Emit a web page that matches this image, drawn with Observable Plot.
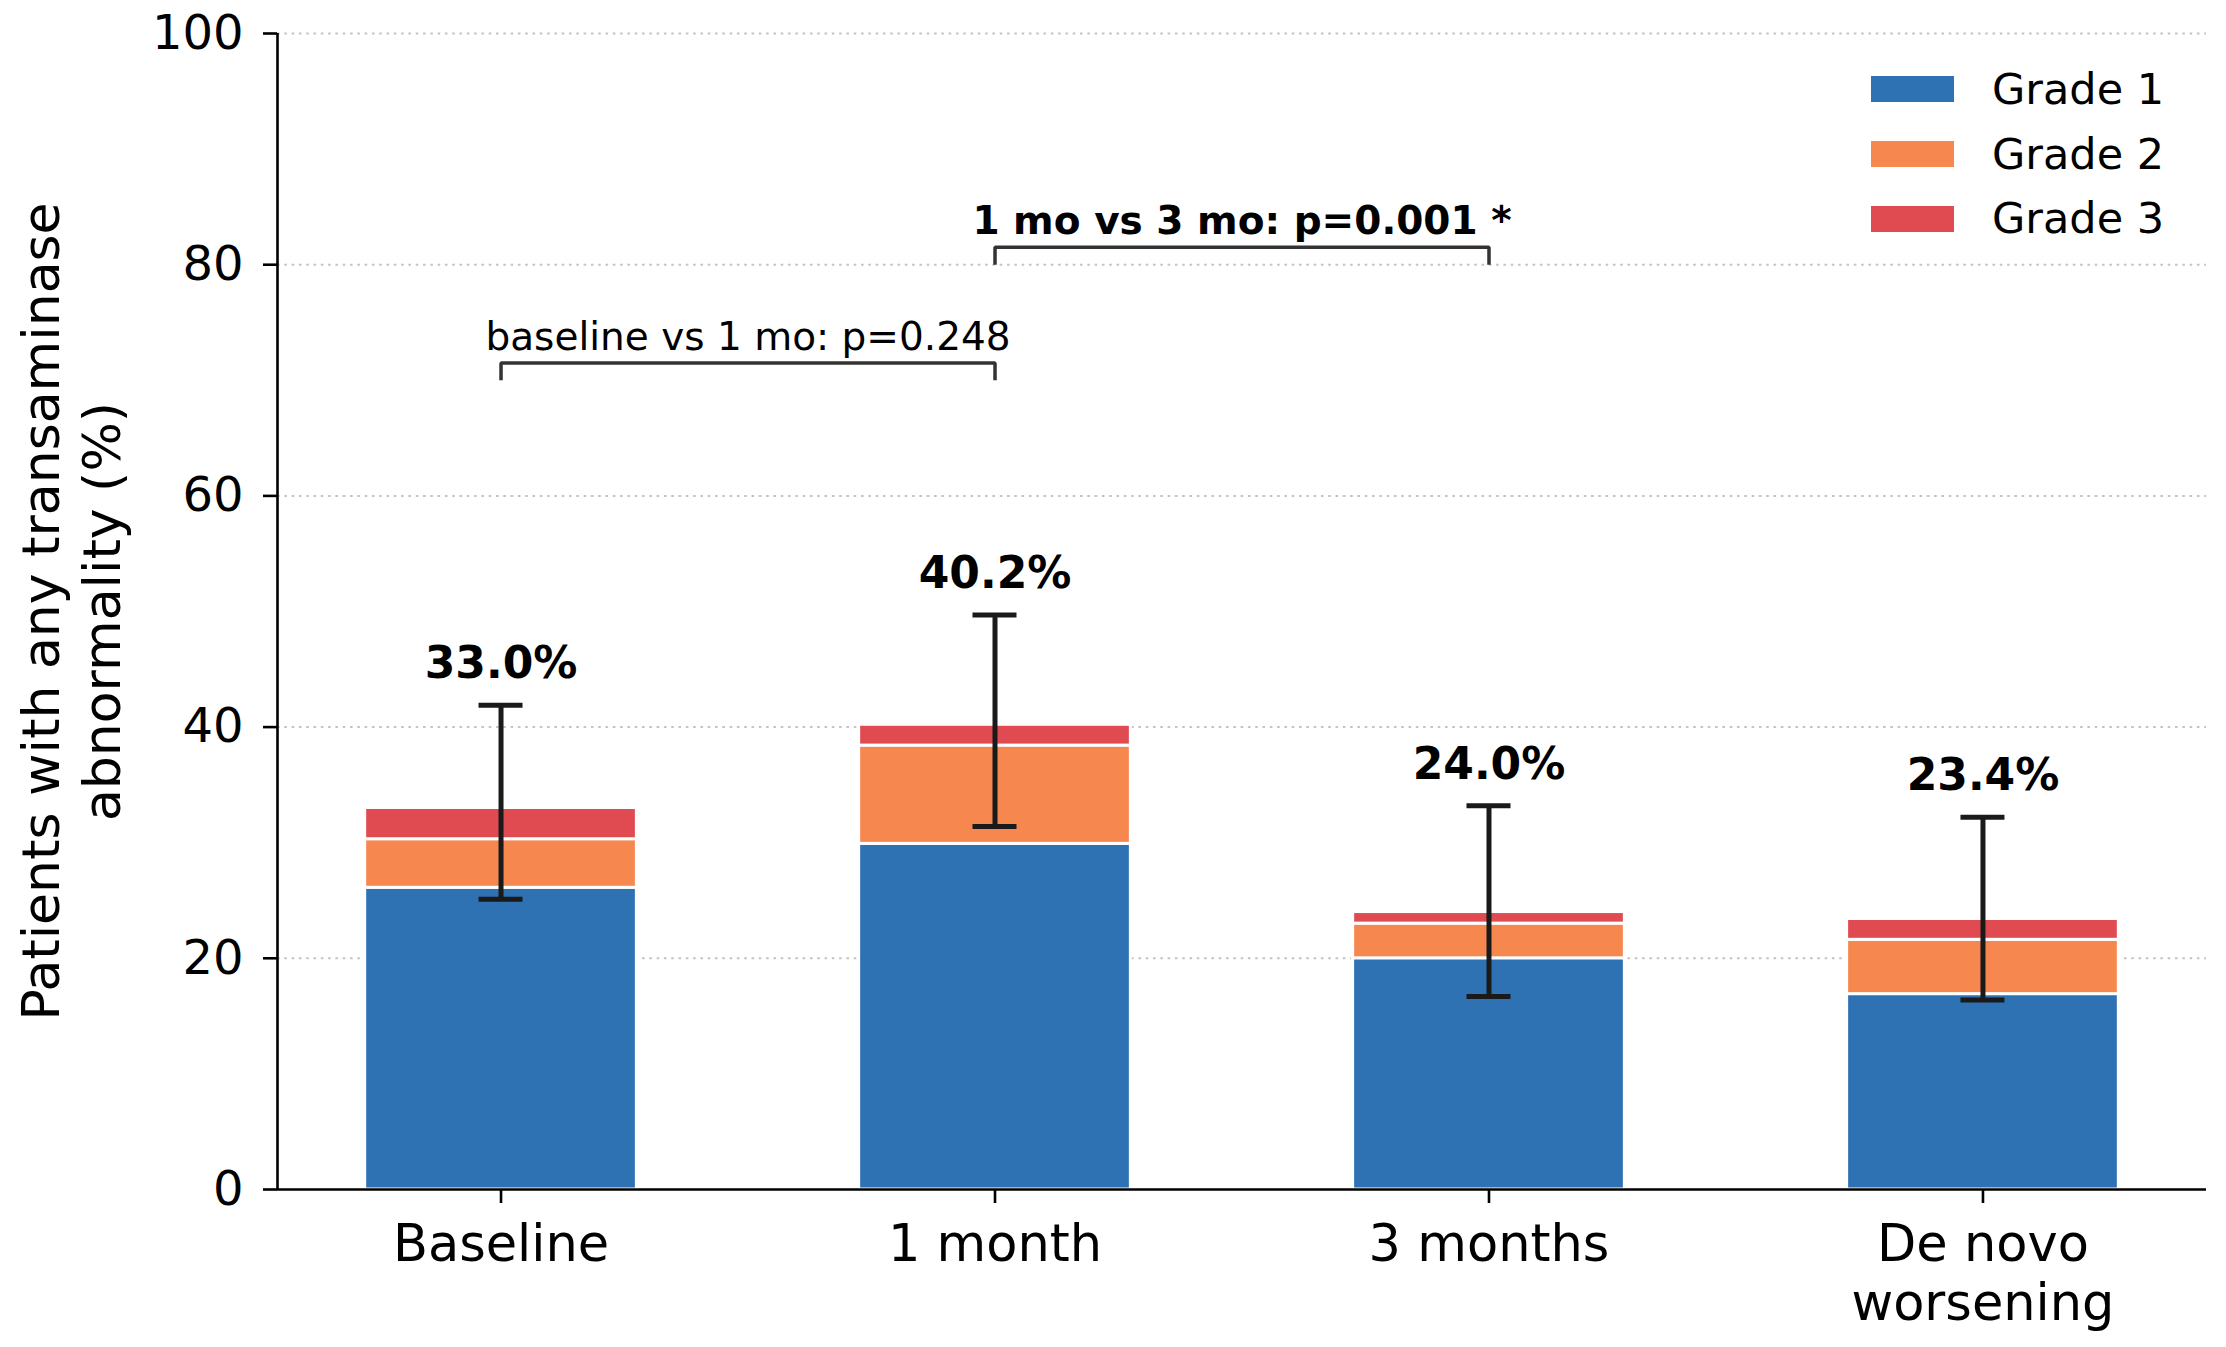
<!DOCTYPE html>
<html>
<head>
<meta charset="utf-8">
<script src="https://cdn.jsdelivr.net/npm/d3@7"></script>
<script src="https://cdn.jsdelivr.net/npm/@observablehq/plot@0.6"></script>
<style>
html, body { margin: 0; padding: 0; background: #fff; }
#wrap { position: relative; width: 2226px; height: 1347px; font-family: "DejaVu Sans", sans-serif; }
#wrap svg { display: block; position: absolute; left: 0; top: 0; }
.legend { position: absolute; left: 1871px; top: 57px; }
.row { display: flex; align-items: center; height: 64.7px; }
.sw { width: 83px; height: 26px; margin-right: 38px; }
.lt { font-size: 43px; line-height: 1; color: #000; white-space: nowrap; }
</style>
</head>
<body>
<div id="wrap"></div>
<script>
// ---- data ----
const categories = ["Baseline", "1 month", "3 months", "De novo\nworsening"];
const grades = ["Grade 1", "Grade 2", "Grade 3"];
const grade1 = [26.1, 29.9, 20.0, 16.9];
const grade2 = [4.2, 8.5, 3.0, 4.7];
const grade3 = [2.7, 1.8, 1.0, 1.8];
const totals = [33.0, 40.2, 24.0, 23.4];
const ciLow = [25.1, 31.4, 16.7, 16.4];
const ciHigh = [41.9, 49.7, 33.2, 32.2];
const gradeColors = ["#2E72B3", "#F5874F", "#E04A51"];
const yTicks = [0, 20, 40, 60, 80, 100];
const gridValues = [20, 40, 60, 80, 100];
const cmpFrom = [0, 1];
const cmpTo = [1, 2];
const cmpY = [70, 80];
const cmpLabels = ["baseline vs 1 mo: p=0.248", "1 mo vs 3 mo: p=0.001 *"];
const cmpBold = [false, true];
const yLabel = "Patients with any transaminase\nabnormality (%)";

// ---- derived tables ----
const gradeValues = [grade1, grade2, grade3];
const segs = [];
categories.forEach((c, i) => {
  let base = 0;
  grades.forEach((g, k) => {
    const v = gradeValues[k][i];
    segs.push({i, grade: g, y1: base, y2: base + v});
    base += v;
  });
});
const summary = categories.map((c, i) => ({i, total: totals[i], lo: ciLow[i], hi: ciHigh[i]}));
const bracketH = 1.5;
const bracketPts = [];
cmpLabels.forEach((lab, j) => {
  bracketPts.push({id: j, x: cmpFrom[j], y: cmpY[j]});
  bracketPts.push({id: j, x: cmpFrom[j], y: cmpY[j] + bracketH});
  bracketPts.push({id: j, x: cmpTo[j], y: cmpY[j] + bracketH});
  bracketPts.push({id: j, x: cmpTo[j], y: cmpY[j]});
});
const bracketText = cmpLabels.map((lab, j) => ({x: (cmpFrom[j] + cmpTo[j]) / 2, y: cmpY[j] + bracketH, label: lab, bold: cmpBold[j]}));

const barHalf = 0.275;
const xMargin = 0.05 * (categories.length - 1 + 2 * barHalf);
const xMin = -barHalf - xMargin;
const xMax = categories.length - 1 + barHalf + xMargin;

const chart = Plot.plot({
  width: 2226,
  height: 1347,
  marginLeft: 277,
  marginRight: 20,
  marginTop: 33,
  marginBottom: 158,
  style: {fontFamily: "DejaVu Sans, sans-serif", color: "#000", background: "transparent"},
  x: {domain: [xMin, xMax]},
  y: {domain: [0, 100]},
  color: {domain: grades, range: gradeColors},
  marks: [
    Plot.ruleY(gridValues, {stroke: "#c4c4c4", strokeWidth: 2, strokeDasharray: "2.6,4.7"}),
    Plot.rect(segs, {x1: d => d.i - barHalf, x2: d => d.i + barHalf, y1: "y1", y2: "y2", fill: "grade", stroke: "white", strokeWidth: 3}),
    Plot.ruleX(summary, {x: "i", y1: "lo", y2: "hi", stroke: "#1a1a1a", strokeWidth: 5}),
    Plot.ruleY(summary, {y: "hi", x1: "i", x2: "i", insetLeft: -22, insetRight: -22, stroke: "#1a1a1a", strokeWidth: 5}),
    Plot.ruleY(summary, {y: "lo", x1: "i", x2: "i", insetLeft: -22, insetRight: -22, stroke: "#1a1a1a", strokeWidth: 5}),
    Plot.text(summary, {x: "i", y: "hi", text: d => d.total.toFixed(1) + "%", dy: -27, lineAnchor: "bottom", fontWeight: "bold", fontSize: 44, fill: "#000"}),
    Plot.line(bracketPts, {x: "x", y: "y", z: "id", stroke: "#333", strokeWidth: 3.5, strokeLinejoin: "miter", strokeLinecap: "butt"}),
    Plot.text(bracketText.filter(d => !d.bold), {x: "x", y: "y", text: "label", dy: -13, lineAnchor: "bottom", fontSize: 39, fontWeight: "normal", fill: "#000"}),
    Plot.text(bracketText.filter(d => d.bold), {x: "x", y: "y", text: "label", dy: -13, lineAnchor: "bottom", fontSize: 39, fontWeight: "bold", fill: "#000"}),
    Plot.axisY({ticks: yTicks, tickSize: 14, tickPadding: 20, fontSize: 48, strokeWidth: 2.6, label: null}),
    Plot.axisX({ticks: categories.map((c, i) => i), tickFormat: i => categories[i], tickSize: 14, tickPadding: 15.5, fontSize: 51, lineHeight: 1.16, strokeWidth: 2.6, label: null}),
    Plot.ruleX([xMin], {y1: 0, y2: 100, stroke: "#000", strokeWidth: 2.6}),
    Plot.ruleY([0], {stroke: "#000", strokeWidth: 2.6}),
    Plot.text([yLabel], {frameAnchor: "left", rotate: -90, dx: -158, lineAnchor: "bottom", textAnchor: "middle", fontSize: 52, lineHeight: 1.16, text: d => d, fill: "#000"})
  ]
});

const wrap = document.getElementById("wrap");
wrap.appendChild(chart);

// legend (from the same grades/colors arrays)
const legend = document.createElement("div");
legend.className = "legend";
grades.forEach((g, k) => {
  const row = document.createElement("div");
  row.className = "row";
  const sw = document.createElement("div");
  sw.className = "sw";
  sw.style.background = chart.scale("color").apply(g);
  const lt = document.createElement("span");
  lt.className = "lt";
  lt.textContent = g;
  row.appendChild(sw);
  row.appendChild(lt);
  legend.appendChild(row);
});
wrap.appendChild(legend);
</script>
</body>
</html>
